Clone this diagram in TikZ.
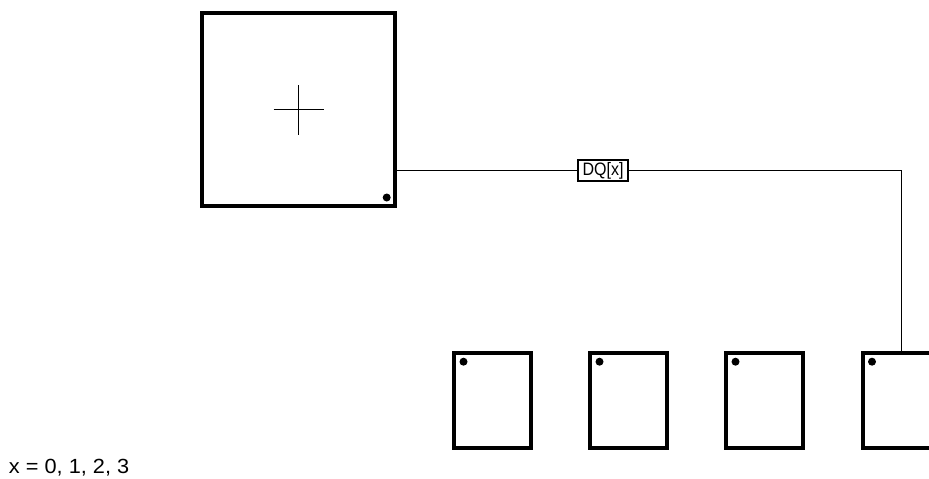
\documentclass[tikz,border=0pt]{standalone}
\usepackage{fontspec}
\setmainfont{Liberation Sans}
\newfontfamily\widefont[FakeStretch=1.06]{Liberation Sans}
\newfontfamily\narrowfont[FakeStretch=0.89]{Liberation Sans}
\tikzset{
  thickbox/.style={draw=black,line width=4pt,fill=white,inner sep=0pt,outer sep=0pt,rectangle},
  chipbox/.style={thickbox,minimum width=77pt,minimum height=95pt},
  pindot/.style={circle,fill=black,inner sep=0pt,outer sep=0pt,minimum size=8pt},
  wire/.style={draw=black,line width=1pt},
  tagbox/.style={draw=black,line width=2.4pt,fill=white,inner sep=0pt,outer sep=0pt,minimum width=49.5pt,minimum height=21pt,font=\fontsize{18}{20}\narrowfont},
  notelabel/.style={inner sep=0pt,outer sep=0pt,anchor=base west,font=\fontsize{20.5}{23}\widefont}
}
\begin{document}
\begin{tikzpicture}[x=1pt,y=-1pt]
\useasboundingbox (0,0) rectangle (929,479);
\clip (0,0) rectangle (929,479);
\fill[white] (0,0) rectangle (929,479);
\node[tagbox] (dq) at (603,170.5) {DQ[x]};
\node[thickbox,minimum width=193pt,minimum height=193pt] (big) at (298.5,109.5) {};
\node[chipbox] (c1) at (492.5,400.5) {};
\node[chipbox] (c2) at (628.5,400.5) {};
\node[chipbox] (c3) at (764.5,400.5) {};
\node[chipbox] (c4) at (901.5,400.5) {};
\node[pindot] (dbig) at (386.7,197.5) {};
\node[pindot] (d1) at (463.5,361.7) {};
\node[pindot] (d2) at (599.5,361.7) {};
\node[pindot] (d3) at (735.5,361.7) {};
\node[pindot] (d4) at (872,361.7) {};
\draw[wire] ([xshift=-25pt]big.center) -- ([xshift=25pt]big.center);
\draw[wire] ([yshift=-25pt]big.center) -- ([yshift=25pt]big.center);
\coordinate (bigout) at (big.east |- dq.west);
\draw[wire] (bigout) -- (dq.west);
\draw[wire] (dq.east) -| (c4.north);
\node[notelabel] (note) at (9,473) {x = 0, 1, 2, 3};
\end{tikzpicture}
\end{document}
